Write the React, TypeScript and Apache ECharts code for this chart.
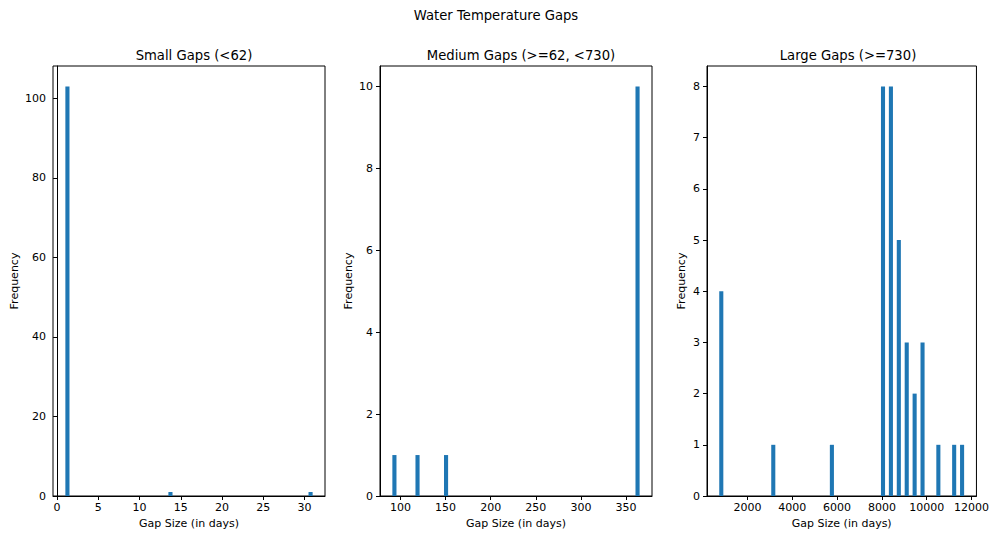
import React, { useEffect, useRef } from "react";
import * as echarts from "echarts";

// ---- data (60 bins each) ----
const N_BINS = 60;

const smallRange = [1, 31];
const smallBinStarts = [1, 13.5, 30.5];
const smallCounts = [103, 1, 1];
const smallXTicks = [0, 5, 10, 15, 20, 25, 30];
const smallYTicks = [0, 20, 40, 60, 80, 100];

const mediumRange = [91, 365];
const mediumBinStarts = [91, 116.6, 148.2, 360.4];
const mediumCounts = [1, 1, 1, 10];
const mediumXTicks = [100, 150, 200, 250, 300, 350];
const mediumYTicks = [0, 2, 4, 6, 8, 10];

const largeRange = [738, 11674];
const largeBinStarts = [738, 3059, 5676, 7958, 8311, 8664, 9017, 9370, 9723, 10429, 11135, 11488];
const largeCounts = [4, 1, 1, 8, 8, 5, 3, 2, 3, 1, 1, 1];
const largeXTicks = [2000, 4000, 6000, 8000, 10000, 12000];
const largeYTicks = [0, 1, 2, 3, 4, 5, 6, 7, 8];

const titles = ["Small Gaps (<62)", "Medium Gaps (>=62, <730)", "Large Gaps (>=730)"];
const suptitle = "Water Temperature Gaps";
const xName = "Gap Size (in days)";
const yName = "Frequency";

const FONT = "DejaVu Sans";
const BLUE = "#1f77b4";

const panels = [
  { range: smallRange, starts: smallBinStarts, counts: smallCounts, xt: smallXTicks, yt: smallYTicks, left: 53, nameGap: 33 },
  { range: mediumRange, starts: mediumBinStarts, counts: mediumCounts, xt: mediumXTicks, yt: mediumYTicks, left: 380, nameGap: 26 },
  { range: largeRange, starts: largeBinStarts, counts: largeCounts, xt: largeXTicks, yt: largeYTicks, left: 707, nameGap: 20 },
];

export default function App() {
  const ref = useRef<HTMLDivElement>(null);
  useEffect(() => {
    if (!ref.current) return;
    const chart = echarts.init(ref.current, undefined, { renderer: "svg" });
    const gridW = 272;
    const gridTop = 66;
    const gridH = 430;

    const grids: any[] = [];
    const xAxes: any[] = [];
    const yAxes: any[] = [];
    const series: any[] = [];
    const titleArr: any[] = [
      {
        text: suptitle,
        left: "center",
        top: 4,
        textStyle: { fontFamily: FONT, fontSize: 13.2, fontWeight: "normal", color: "#000" },
      },
    ];

    panels.forEach((p, i) => {
      const span = p.range[1] - p.range[0];
      const bw = span / N_BINS;
      const xmin = p.range[0] - 0.05 * span;
      const xmax = p.range[1] + 0.05 * span;
      const ymax = Math.max(...p.counts) * 1.05;
      grids.push({
        left: p.left,
        top: gridTop,
        width: gridW,
        height: gridH,
        show: true,
        borderColor: "#000",
        borderWidth: 1,
        backgroundColor: "transparent",
      });
      titleArr.push({
        text: titles[i],
        left: p.left + gridW / 2,
        textAlign: "center",
        top: 44,
        textStyle: { fontFamily: FONT, fontSize: 13.2, fontWeight: "normal", color: "#000" },
      });
      xAxes.push({
        type: "value",
        gridIndex: i,
        min: xmin,
        max: xmax,
        name: xName,
        nameLocation: "middle",
        nameGap: 21,
        nameTextStyle: { fontFamily: FONT, fontSize: 11, color: "#000" },
        axisLine: { show: true, lineStyle: { color: "#000", width: 1 } },
        axisTick: { show: true, inside: false, length: 4, customValues: p.xt, lineStyle: { color: "#000" } },
        axisLabel: {
          customValues: p.xt,
          margin: 6,
          fontFamily: FONT,
          fontSize: 11,
          color: "#000",
          formatter: (v: number) => String(v),
        },
        splitLine: { show: false },
      });
      yAxes.push({
        type: "value",
        gridIndex: i,
        min: 0,
        max: ymax,
        name: yName,
        nameLocation: "middle",
        nameGap: p.nameGap,
        nameTextStyle: { fontFamily: FONT, fontSize: 11, color: "#000" },
        axisLine: { show: true, lineStyle: { color: "#000", width: 1 } },
        axisTick: { show: true, inside: false, length: 4, customValues: p.yt, lineStyle: { color: "#000" } },
        axisLabel: {
          customValues: p.yt,
          margin: 7,
          fontFamily: FONT,
          fontSize: 11,
          color: "#000",
          formatter: (v: number) => String(v),
        },
        splitLine: { show: false },
      });
      series.push({
        type: "custom",
        xAxisIndex: i,
        yAxisIndex: i,
        encode: { x: [0, 1], y: 2 },
        data: p.starts.map((s, k) => [s, s + bw, p.counts[k]]),
        renderItem: (params: any, api: any) => {
          const a = api.coord([api.value(0), api.value(2)]);
          const b = api.coord([api.value(1), 0]);
          return {
            type: "rect",
            shape: { x: a[0], y: a[1], width: b[0] - a[0], height: b[1] - a[1] },
            style: { fill: BLUE },
          };
        },
      });
    });

    chart.setOption({
      animation: false,
      backgroundColor: "#fff",
      textStyle: { fontFamily: FONT },
      title: titleArr,
      grid: grids,
      xAxis: xAxes,
      yAxis: yAxes,
      series,
    });
    return () => chart.dispose();
  }, []);
  return (
    <div
      ref={ref}
      style={{ position: "fixed", left: 0, top: 0, width: 992, height: 536 }}
    />
  );
}
